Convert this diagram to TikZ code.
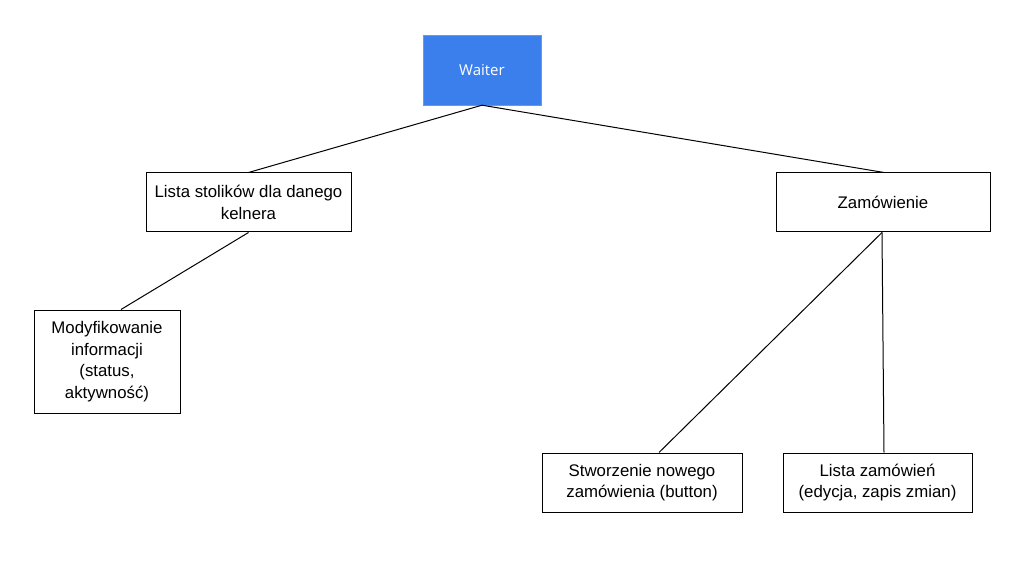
\documentclass[tikz,border=0pt]{standalone}
\usepackage{fontspec}
\usetikzlibrary{calc}
\setmainfont{Liberation Sans}
\newfontfamily\waiterfont{Open Sans}
\definecolor{wblue}{HTML}{3B7FED}
\begin{document}
\begin{tikzpicture}[x=1pt,y=-1pt,
  box/.style={draw=black,line width=1pt,fill=white,align=center,inner sep=0pt,font=\fontsize{16.8}{21.5}\selectfont},
  link/.style={draw=black,line width=1pt}]
\useasboundingbox (0,0) rectangle (1031,572);
\node[draw=wblue!80!white,fill=wblue,minimum width=118pt,minimum height=70pt,inner sep=0pt,text=white,font=\waiterfont\fontsize{15}{17}\selectfont] (w) at (482,70) {Waiter};
\node[box,minimum width=205pt,minimum height=59pt] (ls) at (248.5,202.5) {Lista stolików dla danego\\kelnera};
\node[box,minimum width=214pt,minimum height=59pt] (z) at (883,202.5) {Zamówienie};
\node[box,minimum width=146pt,minimum height=103pt] (m) at (107,361.5) {Modyfikowanie\\informacji\\(status,\\aktywność)};
\node[box,minimum width=200pt,minimum height=59pt] (s) at (642,482.5) {Stworzenie nowego\\zamówienia (button)};
\node[box,minimum width=189pt,minimum height=59pt] (lz) at (877.5,482.5) {Lista zamówień\\(edycja, zapis zmian)};
\coordinate (mt) at ($(m.north)+(14,0)$);
\coordinate (st) at ($(s.north)+(17,0)$);
\coordinate (lzt) at ($(lz.north)+(6.5,0)$);
\coordinate (zb) at ($(z.south)+(-1,0)$);
\draw[link] (w.south) -- (ls.north);
\draw[link] (w.south) -- ($(z.north)+(1,0)$);
\draw[link] (ls.south) -- (mt);
\draw[link] (zb) -- (st);
\draw[link] (zb) -- (lzt);
\end{tikzpicture}
\end{document}
